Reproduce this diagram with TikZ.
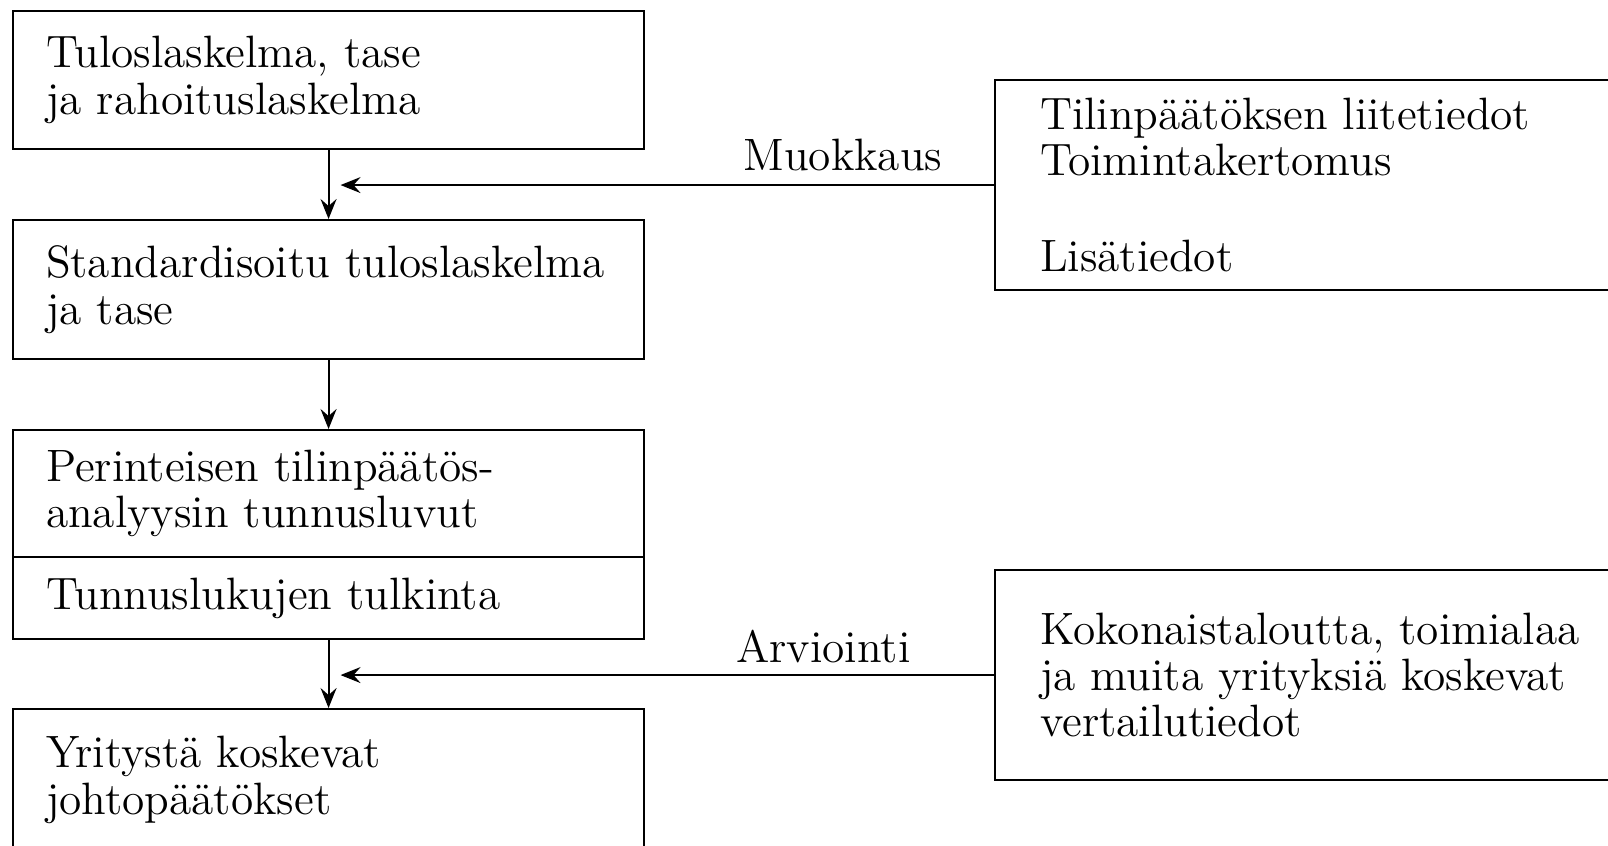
\documentclass[tikz,border=0pt]{standalone}
\usetikzlibrary{arrows.meta,positioning,calc}
\tikzset{
	box/.style={draw, line width=0.6pt, anchor=north west, align=left, inner ysep=0pt, font=\fontsize{12.9}{13.2}\selectfont},
	lbox/.style={box, inner xsep=0.33cm, minimum width=6.31cm, text width=5.65cm},
	rbox/.style={box, inner xsep=0.45cm, minimum width=6.30cm, text width=5.40cm},
	lbl/.style={inner sep=0pt, anchor=base east, font=\fontsize{12.9}{13.2}\selectfont},
	arr/.style={line width=0.6pt, -{Stealth[length=0.2cm, width=0.16cm, inset=0.07cm]}}
}
\begin{document}
\begin{tikzpicture}
			%%%%% START %%%%%
			\useasboundingbox (0, 0) rectangle (16.08, -8.45);
			
			\node[lbox, minimum height=1.38cm] (tulos) at (0.12, -0.10) {Tuloslaskelma, tase\\ja rahoituslaskelma};
			\node[lbox, minimum height=1.39cm] (std) at (0.12, -2.19) {Standardisoitu tuloslaskelma\\ja tase};
			\node[lbox, minimum height=1.27cm] (luvut) at (0.12, -4.29) {Perinteisen tilinpäätös-\\analyysin tunnusluvut};
			\node[lbox, minimum height=0.82cm] (tulk) at (0.12, -5.56) {Tunnuslukujen tulkinta};
			\node[lbox, minimum height=1.42cm] (johto) at (0.12, -7.08) {Yritystä koskevat\\johtopäätökset};
			
			\node[rbox, minimum height=2.10cm] (liite) at (9.94, -0.79) {Tilinpäätöksen liitetiedot\\Toimintakertomus\\[0.5cm]Lisätiedot};
			\node[rbox, minimum height=2.10cm] (vert) at (9.94, -5.69) {Kokonaistaloutta, toimialaa\\ja muita yrityksiä koskevat\\vertailutiedot};
			
			\draw[arr] (tulos.south) -- (std.north);
			\draw[arr] (std.south) -- (luvut.north);
			\draw[arr] (tulk.south) -- (johto.north);
			
			\draw[arr] (liite.west) -- ([xshift=0.12cm]liite.west -| tulos.south);
			\draw[arr] (vert.west) -- ([xshift=0.12cm]vert.west -| tulk.south);
			
			\node[lbl] (muok) at ([xshift=-0.51cm, yshift=0.15cm]liite.west) {Muokkaus};
			\node[lbl] (arvi) at ([xshift=-0.83cm, yshift=0.13cm]vert.west) {Arviointi};
			
			%%%%% END %%%%%
\end{tikzpicture}
\end{document}
